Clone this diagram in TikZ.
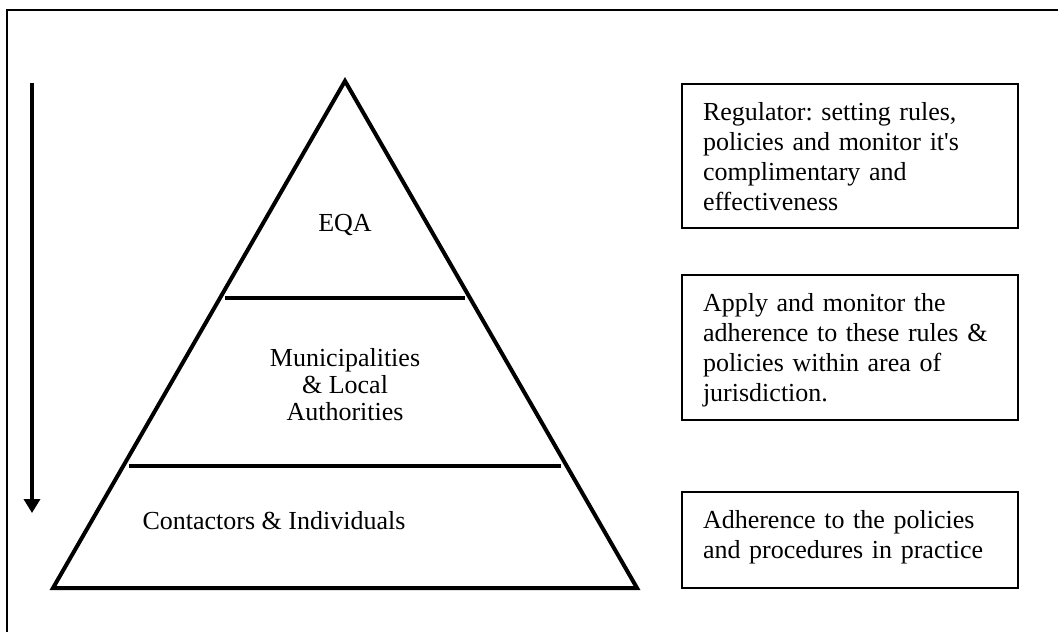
\documentclass[tikz,border=0pt]{standalone}
\usepackage{fontspec}
\setmainfont{Liberation Serif}
\usetikzlibrary{arrows.meta}

\begin{document}
\frenchspacing
\begin{tikzpicture}[x=0.5pt,y=-0.5pt,
    every node/.style={font=\fontsize{13}{15}\selectfont},
    tier/.style={line width=2pt},
    rolebox/.style={draw,line width=1pt,anchor=north west,text width=147pt,
      inner xsep=10.5pt,inner ysep=0pt,text height=18pt,align=left}]
  \useasboundingbox (0,0) rectangle (1058,632);

  % outer frame (only top and left edges show)
  \draw[line width=1pt] (7,632) -- (7,10) -- (1058,10);

  % downward arrow
  \coordinate (top) at (32,83);
  \coordinate (bottom) at (32,513);
  \draw[line width=2pt,-{Triangle[width=8pt,length=7pt]}] (top) -- (bottom);

  % pyramid
  \coordinate (apex) at (345,81);
  \coordinate (bl) at (53,588);
  \coordinate (br) at (637,588);
  \draw[tier,line join=miter] (apex) -- (br) -- (bl) -- cycle;
  \coordinate (d1l) at (225,298);
  \coordinate (d1r) at (465,298);
  \coordinate (d2l) at (129,466);
  \coordinate (d2r) at (561,466);
  \draw[tier] (d1l) -- (d1r);
  \draw[tier] (d2l) -- (d2r);

  \node (eqa) at (345,225) {EQA};
  \node[align=center,font=\fontsize{13}{13.5}\selectfont] (muni) at (345,385)
    {Municipalities\\ \& Local\\ Authorities};
  \node (cont) at (274,521) {Contactors \& Individuals};

  % role boxes
  \node[rolebox,text depth=54pt] (reg) at (681,83)
    {Regulator: setting rules,\\ policies and monitor it\textquotesingle s\\ complimentary and\\ effectiveness};
  \node[rolebox,text depth=54.5pt] (apply) at (681,274)
    {Apply and monitor the\\ adherence to these rules \&\\ policies within area of\\ jurisdiction.};
  \node[rolebox,text depth=30pt] (adh) at (681,491)
    {Adherence to the policies\\ and procedures in practice};
\end{tikzpicture}
\end{document}
